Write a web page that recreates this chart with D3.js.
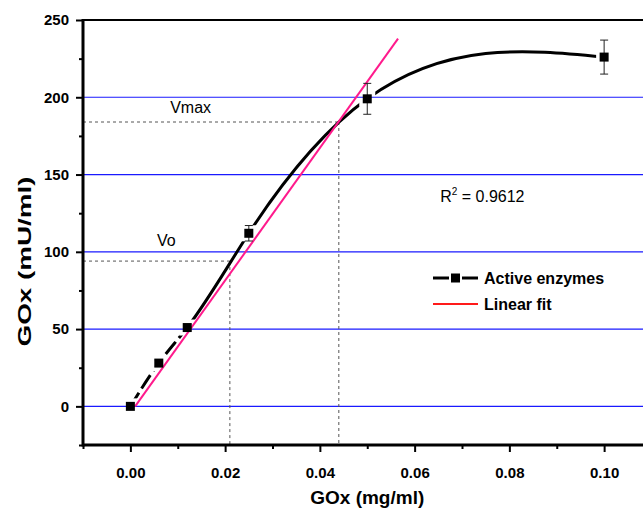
<!DOCTYPE html>
<html>
<head>
<meta charset="utf-8">
<script src="https://cdn.jsdelivr.net/npm/d3@7"></script>
<style>
  body { margin: 0; background: #fff; }
  svg { display: block; font-family: Arial, "Liberation Sans", sans-serif; }
</style>
</head>
<body>
<svg id="chart"></svg>
<script>
// data
const concX = [0, 0.006, 0.012, 0.025, 0.05, 0.1];
const activity = [0, 28, 51, 112, 199, 226];
const activityErr = [0, 2, 2, 5, 10, 11];
const fitX = [0.001, 0.0565];
const fitY = [0, 238];
const refLabels = ["Vo", "Vmax"];
const refX = [0.021, 0.044];
const refY = [94, 184];
const xTicks = [0, 0.02, 0.04, 0.06, 0.08, 0.10];
const xMinor = [-0.01, 0.01, 0.03, 0.05, 0.07, 0.09];
const yTicks = [0, 50, 100, 150, 200, 250];
const yMinor = [-25, 25, 75, 125, 175, 225];
const gridY = [0, 50, 100, 150, 200];
const r2Value = "0.9612";

const width = 643;
const height = 515;
const margin = { top: 20, left: 83, bottom: 70 };

const svg = d3.select("#chart").attr("width", width).attr("height", height);

const x = d3.scaleLinear().domain([-0.01, 0.11]).range([margin.left, 651.5]);
const y = d3.scaleLinear().domain([-25, 250]).range([height - margin.bottom, margin.top]);

const points = concX.map((c, i) => ({ x: c, y: activity[i], err: activityErr[i] }));

// natural cubic spline y(x), like Origin's "spline" connection
function curveSplineX(context) {
  let xs, ys;
  return {
    areaStart() {}, areaEnd() {},
    lineStart() { xs = []; ys = []; },
    point(px, py) { xs.push(+px); ys.push(+py); },
    lineEnd() {
      const n = xs.length;
      if (n < 3) {
        xs.forEach((v, i) => i ? context.lineTo(v, ys[i]) : context.moveTo(v, ys[i]));
        return;
      }
      const h = d3.range(n - 1).map(i => xs[i + 1] - xs[i]);
      const d = d3.range(n - 1).map(i => (ys[i + 1] - ys[i]) / h[i]);
      // tridiagonal system for second derivatives, natural ends
      const a = [], b = [], c = [], r = [];
      for (let i = 1; i < n - 1; i++) {
        a.push(h[i - 1]); b.push(2 * (h[i - 1] + h[i])); c.push(h[i]);
        r.push(6 * (d[i] - d[i - 1]));
      }
      const m = b.length;
      for (let i = 1; i < m; i++) {
        const w = a[i] / b[i - 1];
        b[i] -= w * c[i - 1];
        r[i] -= w * r[i - 1];
      }
      const M = new Array(n).fill(0);
      for (let i = m - 1; i >= 0; i--) {
        M[i + 1] = (r[i] - (i < m - 1 ? c[i] * M[i + 2] : 0)) / b[i];
      }
      context.moveTo(xs[0], ys[0]);
      for (let i = 0; i < n - 1; i++) {
        const s0 = d[i] - h[i] * (2 * M[i] + M[i + 1]) / 6;
        const s1 = d[i] + h[i] * (M[i] + 2 * M[i + 1]) / 6;
        const t = h[i] / 3;
        context.bezierCurveTo(xs[i] + t, ys[i] + t * s0, xs[i + 1] - t, ys[i + 1] - t * s1, xs[i + 1], ys[i + 1]);
      }
    }
  };
}

// blue horizontal grid lines
svg.append("g")
  .selectAll("line")
  .data(gridY)
  .join("line")
  .attr("x1", margin.left)
  .attr("x2", width)
  .attr("y1", d => y(d))
  .attr("y2", d => y(d))
  .attr("stroke", "#1a1aff")
  .attr("stroke-width", 1.2);

// dotted guide lines for Vo / Vmax
const guides = svg.append("g")
  .attr("stroke", "#555")
  .attr("stroke-width", 1)
  .attr("stroke-dasharray", "3,3");
refX.forEach((rx, i) => {
  guides.append("line")
    .attr("x1", x(-0.01)).attr("x2", x(rx))
    .attr("y1", y(refY[i])).attr("y2", y(refY[i]));
  guides.append("line")
    .attr("x1", x(rx)).attr("x2", x(rx))
    .attr("y1", y(refY[i])).attr("y2", y(-25));
});

// mask that leaves a small gap round every symbol
const defs = svg.append("defs");
const mask = defs.append("mask")
  .attr("id", "symbolGap")
  .attr("maskUnits", "userSpaceOnUse")
  .attr("x", 0).attr("y", 0).attr("width", width).attr("height", height);
mask.append("rect").attr("width", width).attr("height", height).attr("fill", "white");
mask.selectAll("rect.hole")
  .data(points)
  .join("rect")
  .attr("class", "hole")
  .attr("x", d => x(d.x) - 8)
  .attr("y", d => y(d.y) - 8)
  .attr("width", 16)
  .attr("height", 16)
  .attr("fill", "black");

defs.append("clipPath").attr("id", "lowPart")
  .append("rect")
  .attr("x", 0).attr("y", 0)
  .attr("width", x(concX[2]))
  .attr("height", height);
defs.append("clipPath").attr("id", "highPart")
  .append("rect")
  .attr("x", x(concX[2])).attr("y", 0)
  .attr("width", width - x(concX[2]))
  .attr("height", height);

const curve = d3.line()
  .x(d => x(d.x))
  .y(d => y(d.y))
  .curve(curveSplineX);

const curveG = svg.append("g").attr("mask", "url(#symbolGap)");
curveG.append("path")
  .datum(points)
  .attr("clip-path", "url(#lowPart)")
  .attr("d", curve)
  .attr("fill", "none")
  .attr("stroke", "#000")
  .attr("stroke-width", 3)
  .attr("stroke-dasharray", "16,5");
curveG.append("path")
  .datum(points)
  .attr("clip-path", "url(#highPart)")
  .attr("d", curve)
  .attr("fill", "none")
  .attr("stroke", "#000")
  .attr("stroke-width", 3);

// linear fit
svg.append("line")
  .attr("x1", x(fitX[0])).attr("y1", y(fitY[0]))
  .attr("x2", x(fitX[1])).attr("y2", y(fitY[1]))
  .attr("stroke", "#ff1a8c")
  .attr("stroke-width", 2);

// error bars
const eb = svg.append("g").attr("stroke", "#222").attr("stroke-width", 1);
points.filter(d => d.err > 0).forEach(d => {
  eb.append("line")
    .attr("x1", x(d.x)).attr("x2", x(d.x))
    .attr("y1", y(d.y - d.err)).attr("y2", y(d.y + d.err));
  [d.y - d.err, d.y + d.err].forEach(v => {
    eb.append("line")
      .attr("x1", x(d.x) - 4).attr("x2", x(d.x) + 4)
      .attr("y1", y(v)).attr("y2", y(v));
  });
});

// symbols
svg.append("g")
  .selectAll("rect")
  .data(points)
  .join("rect")
  .attr("x", d => x(d.x) - 4.5)
  .attr("y", d => y(d.y) - 4.5)
  .attr("width", 9)
  .attr("height", 9)
  .attr("fill", "#000");

// axes
svg.append("g")
  .attr("transform", `translate(0,${y(-25)})`)
  .call(d3.axisBottom(x).tickValues(xTicks).tickFormat(d3.format(".2f")).tickSize(7).tickPadding(15));
svg.append("g")
  .attr("transform", `translate(0,${y(-25)})`)
  .call(d3.axisBottom(x).tickValues(xMinor).tickFormat("").tickSize(4));
svg.append("g")
  .attr("transform", `translate(${margin.left},0)`)
  .call(d3.axisLeft(y).tickValues(yTicks).tickSize(7).tickPadding(7));
svg.append("g")
  .attr("transform", `translate(${margin.left},0)`)
  .call(d3.axisLeft(y).tickValues(yMinor).tickFormat("").tickSize(4));

svg.selectAll(".domain").remove();
svg.selectAll(".tick line").attr("stroke", "#000").attr("stroke-width", 2);
svg.selectAll(".tick text")
  .attr("fill", "#000")
  .style("font-size", "15px")
  .style("font-weight", "bold")
  .style("font-family", "Arial, 'Liberation Sans', sans-serif");

// frame
svg.append("line")
  .attr("x1", margin.left).attr("x2", width)
  .attr("y1", y(250)).attr("y2", y(250))
  .attr("stroke", "#000").attr("stroke-width", 2);
svg.append("line")
  .attr("x1", margin.left).attr("x2", width)
  .attr("y1", y(-25)).attr("y2", y(-25))
  .attr("stroke", "#000").attr("stroke-width", 3);
svg.append("line")
  .attr("x1", margin.left).attr("x2", margin.left)
  .attr("y1", y(250) - 1).attr("y2", y(-25) + 1.5)
  .attr("stroke", "#000").attr("stroke-width", 3);

// axis titles
svg.append("text")
  .attr("x", (margin.left + 651.5) / 2)
  .attr("y", 504)
  .attr("text-anchor", "middle")
  .style("font-size", "19px")
  .style("font-weight", "bold")
  .text("GOx (mg/ml)");
svg.append("text")
  .attr("transform", `translate(31,${(y(250) + y(-25)) / 2 + 29}) rotate(-90)`)
  .attr("text-anchor", "middle")
  .attr("textLength", 170)
  .attr("lengthAdjust", "spacingAndGlyphs")
  .style("font-size", "19px")
  .style("font-weight", "bold")
  .text("GOx (mU/ml)");

// annotations
const labelOffsets = [[-0.0154, 10], [-0.0356, 6]];
refLabels.forEach((t, i) => {
  svg.append("text")
    .attr("x", x(refX[i] + labelOffsets[i][0]))
    .attr("y", y(refY[i] + labelOffsets[i][1]))
    .style("font-size", "16px")
    .text(t);
});

const r2 = svg.append("text")
  .attr("x", x(0.0654))
  .attr("y", y(132))
  .style("font-size", "16px");
r2.append("tspan").text("R");
r2.append("tspan").attr("dy", -7).style("font-size", "10px").text("2");
r2.append("tspan").attr("dy", 7).text(" = " + r2Value);

// legend
const legend = svg.append("g").attr("transform", "translate(433,278)");
legend.append("line").attr("x1", 0).attr("x2", 16).attr("y1", 0).attr("y2", 0)
  .attr("stroke", "#000").attr("stroke-width", 3);
legend.append("line").attr("x1", 29).attr("x2", 45).attr("y1", 0).attr("y2", 0)
  .attr("stroke", "#000").attr("stroke-width", 3);
legend.append("rect").attr("x", 18).attr("y", -4.5).attr("width", 9).attr("height", 9).attr("fill", "#000");
legend.append("text").attr("x", 51).attr("y", 6)
  .style("font-size", "16px").style("font-weight", "bold").text("Active enzymes");
legend.append("line").attr("x1", 0).attr("x2", 45).attr("y1", 26).attr("y2", 26)
  .attr("stroke", "#ff1a1a").attr("stroke-width", 2);
legend.append("text").attr("x", 51).attr("y", 32)
  .style("font-size", "16px").style("font-weight", "bold").text("Linear fit");
</script>
</body>
</html>
